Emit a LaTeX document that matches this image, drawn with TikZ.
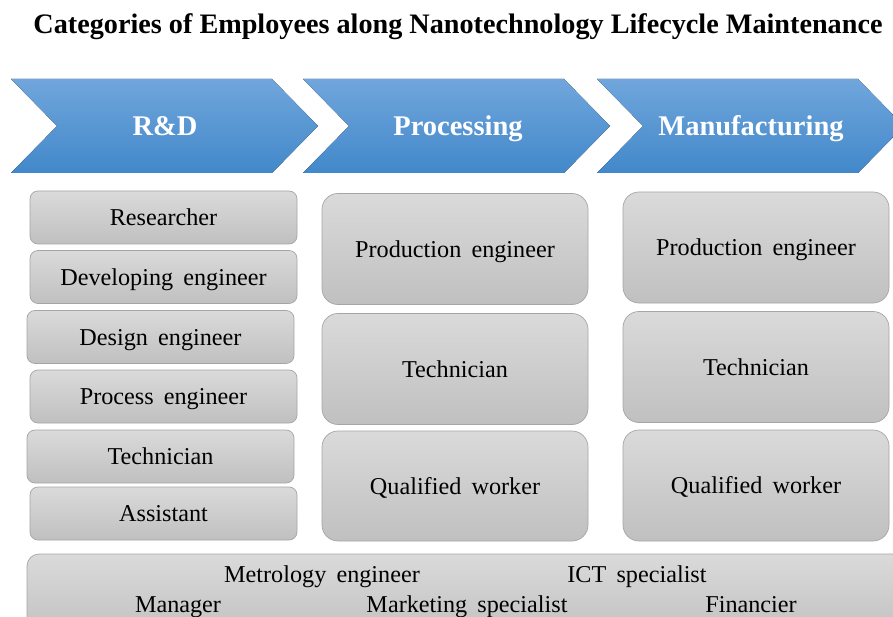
\documentclass[tikz,border=0pt]{standalone}
\usepackage{fontspec}
\setmainfont{Liberation Serif}
\definecolor{chevtop}{RGB}{112,166,220}
\definecolor{chevbot}{RGB}{66,136,202}
\definecolor{boxtop}{RGB}{218,218,218}
\definecolor{boxbot}{RGB}{192,192,192}
\definecolor{boxline}{RGB}{165,165,165}
\newcommand{\rolefont}{\fontsize{24.2}{28}\selectfont\spaceskip=0.42em plus 0.1em minus 0.05em\relax}
\tikzset{
  chev/.style={top color=chevtop, bottom color=chevbot, draw=none},
  chevlabel/.style={text=white, font=\bfseries\fontsize{28.5}{32}\selectfont, inner sep=0pt, anchor=base},
  role/.style={draw=boxline, line width=0.7pt, top color=boxtop, bottom color=boxbot,
    rounded corners=8pt, inner sep=0pt, font=\rolefont, text height=16.5pt, text depth=0pt},
  smallrole/.style={role, minimum width=267pt, minimum height=53pt},
  bigrole/.style={role, rounded corners=16pt, minimum width=266pt, minimum height=111pt},
  txt/.style={inner sep=0pt, font=\rolefont, anchor=base},
}
\begin{document}
\begin{tikzpicture}[x=1pt, y=-1pt]
\useasboundingbox (0,0) rectangle (893,617);
\clip (0,0) rectangle (893,617);
\node[inner sep=0pt, anchor=base, font=\bfseries\fontsize{28.2}{32}\selectfont] (title) at (458,34) {Categories of Employees along Nanotechnology Lifecycle Maintenance};
% chevrons
\fill[chev] (11,79) -- (272,79) -- (318,126) -- (272,173) -- (11,173) -- (57,126) -- cycle;
\fill[chev] (303,79) -- (564,79) -- (610,126) -- (564,173) -- (303,173) -- (349,126) -- cycle;
\fill[chev] (597,79) -- (858,79) -- (904,126) -- (858,173) -- (597,173) -- (643,126) -- cycle;
\node[chevlabel] (rd) at (165,136) {R\&D};
\node[chevlabel] (proc) at (458,136) {Processing};
\node[chevlabel] (manu) at (751,136) {Manufacturing};
% R&D column
\node[smallrole] (r1) at (163.5,217.5) {Researcher};
\node[smallrole] (r2) at (163.5,277) {Developing engineer};
\node[smallrole] (r3) at (160.5,337) {Design engineer};
\node[smallrole] (r4) at (163.5,396.5) {Process engineer};
\node[smallrole] (r5) at (160.5,456.5) {Technician};
\node[smallrole] (r6) at (163.5,513.5) {Assistant};
% Processing column
\node[bigrole] (p1) at (455,249) {Production engineer};
\node[bigrole] (p2) at (455,369) {Technician};
\node[bigrole, minimum height=110pt] (p3) at (455,486) {Qualified worker};
% Manufacturing column
\node[bigrole] (m1) at (756,247.5) {Production engineer};
\node[bigrole] (m2) at (756,367) {Technician};
\node[bigrole] (m3) at (756,485.5) {Qualified worker};
% bottom band
\draw[draw=boxline, line width=0.7pt, top color=boxtop, bottom color=boxbot, rounded corners=12pt] (27,554) rectangle (910,640);
\node[txt] (b1) at (322,582) {Metrology engineer};
\node[txt] (b2) at (637,582) {ICT specialist};
\node[txt] (b3) at (178,612) {Manager};
\node[txt] (b4) at (467,612) {Marketing specialist};
\node[txt] (b5) at (751,612) {Financier};
\end{tikzpicture}
\end{document}
